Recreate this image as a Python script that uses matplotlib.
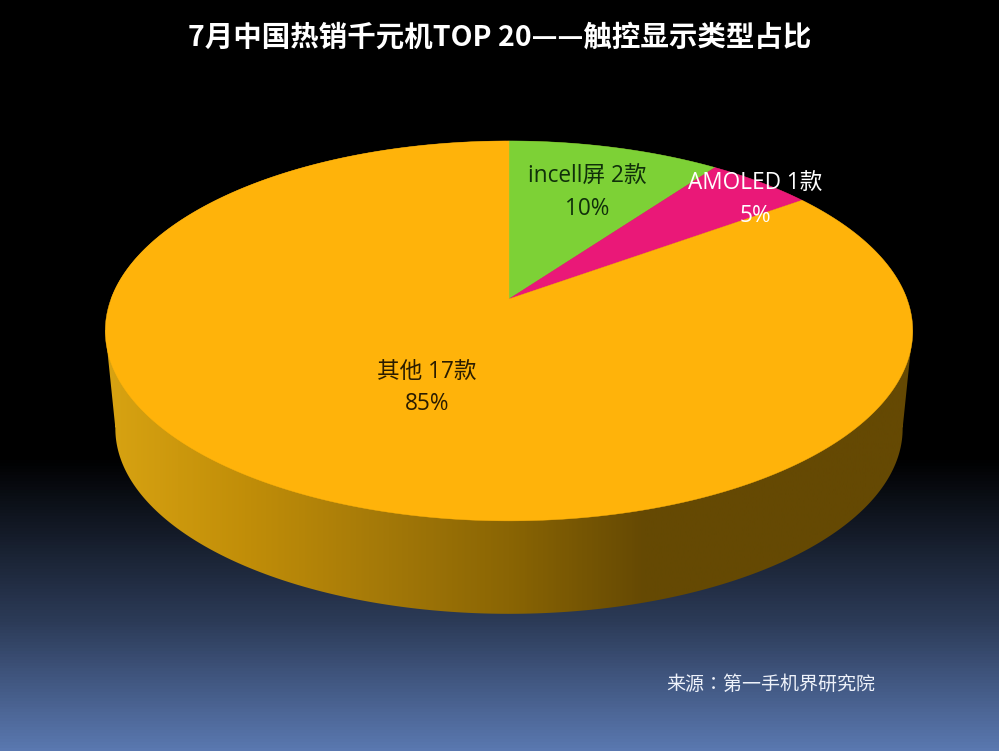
import numpy as np
import matplotlib
matplotlib.use("Agg")
import matplotlib.pyplot as plt
from matplotlib.patches import Polygon
from matplotlib.colors import LinearSegmentedColormap

title = "7月中国热销千元机TOP 20——触控显示类型占比"
source = "来源：第一手机界研究院"
names = ["incell屏", "AMOLED", "其他"]
counts = [2, 1, 17]
colors = ["#7dd136", "#ea1878", "#ffb30a"]
text_colors = ["#10300a", "#ffffff", "#2a1c00"]

W, H = 999, 751
CJK = "Noto Sans CJK SC"
LABEL_FONT = ["Open Sans", CJK]

fig = plt.figure(figsize=(W / 100, H / 100), dpi=100)
ax = fig.add_axes([0, 0, 1, 1])
ax.set_xlim(0, W)
ax.set_ylim(H, 0)
ax.axis("off")

# background
bg = LinearSegmentedColormap.from_list(
    "bg", [(0, "#000000"), (0.61, "#000000"), (0.83, "#2c3b58"), (1, "#5a78b0")])
ax.imshow(np.linspace(0, 1, H).reshape(-1, 1), cmap=bg, extent=(0, W, H, 0),
          aspect="auto", zorder=0, vmin=0, vmax=1)
ax.set_xlim(0, W)
ax.set_ylim(H, 0)


def project(theta, scale=1.0, apex=(509, 299)):
    """Perspective view of a unit disc; theta is clockwise from twelve o'clock."""
    x, y = np.sin(theta), np.cos(theta)
    w = 1 + 0.168 * y
    return np.column_stack((apex[0] + scale * 398 * x / w,
                            apex[1] - scale * 184.6 * y / w))


# side wall
full = np.linspace(0, 2 * np.pi, 720, endpoint=False)
top_rim = project(full)
low_rim = project(full, scale=0.975, apex=(509, 397.5))
front = (full > np.pi / 2) & (full < 3 * np.pi / 2)
arc = low_rim[front]
left_top = top_rim[np.argmin(top_rim[:, 0])]
right_top = top_rim[np.argmax(top_rim[:, 0])]
low_right = low_rim[np.argmax(low_rim[:, 0])]
low_left = low_rim[np.argmin(low_rim[:, 0])]
outline = np.vstack((right_top, low_right, arc, low_left, left_top, top_rim[~front]))
side_patch = Polygon(outline, closed=True, transform=ax.transData, fc="none", ec="none")
ax.add_patch(side_patch)
side_cmap = LinearSegmentedColormap.from_list(
    "side", [(0, "#d8a312"), (0.18, "#c08d08"), (0.35, "#a37808"),
             (0.5, "#8a6504"), (0.67, "#654903"), (1, "#654903")])
im = ax.imshow(np.linspace(0, 1, 400).reshape(1, -1), cmap=side_cmap,
               extent=(105, 913, 620, 130), aspect="auto", zorder=1)
im.set_clip_path(side_patch)
ax.set_xlim(0, W)
ax.set_ylim(H, 0)

# top face
total = sum(counts)
edges = 2 * np.pi * np.concatenate(([0], np.cumsum(counts))) / total
for a0, a1, c in zip(edges[:-1], edges[1:], colors):
    rim = project(np.linspace(a0, a1, 400))
    ax.add_patch(Polygon(np.vstack(((509, 299), rim)), closed=True, fc=c, ec=c,
                         lw=0.3, zorder=2))

# labels
label_pos = [(587.5, 193), (755, 200), (427, 388)]
for name, n, (x, y), tc in zip(names, counts, label_pos, text_colors):
    ax.text(x, y, f"{name} {n}款\n{round(100 * n / total)}%", ha="center", va="center",
            fontsize=16.3, color=tc, family=LABEL_FONT, linespacing=1.45, zorder=3)

ax.text(500, 38, title, ha="center", va="center", fontsize=20.5, fontweight="bold",
        color="white", family=[CJK], zorder=3)
ax.text(770.5, 684, source, ha="center", va="center", fontsize=13.7,
        color="#eef2fa", family=["Noto Sans CJK TC"], zorder=3)

fig.savefig("out.png", dpi=100, facecolor="black")
